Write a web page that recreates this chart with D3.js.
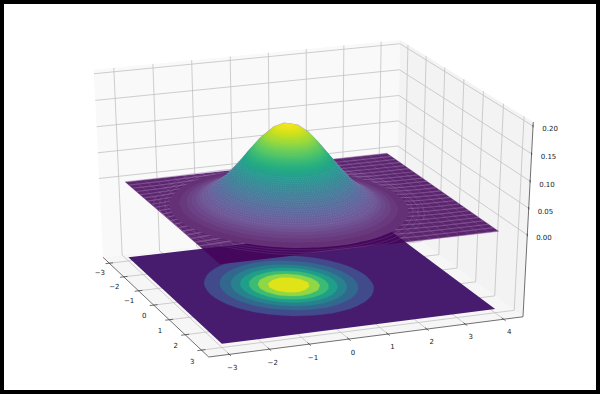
<!DOCTYPE html>
<html>
<head>
<meta charset="utf-8">
<script src="https://cdn.jsdelivr.net/npm/d3@7"></script>
<style>
    html, body { margin: 0; padding: 0; background: #fff; }
    svg { display: block; }
    text { font-family: "DejaVu Sans", sans-serif; font-size: 7px; fill: #1a1a1a; }
</style>
</head>
<body>
<div id="chart"></div>
<script>
const xs = [-3, -2.75, -2.5, -2.25, -2, -1.75, -1.5, -1.25, -1, -0.75, -0.5, -0.25, 0, 0.25, 0.5, 0.75, 1, 1.25, 1.5, 1.75, 2, 2.25, 2.5, 2.75, 3];
const ys = [-3, -2.75, -2.5, -2.25, -2, -1.75, -1.5, -1.25, -1, -0.75, -0.5, -0.25, 0, 0.25, 0.5, 0.75, 1, 1.25, 1.5, 1.75, 2, 2.25, 2.5, 2.75, 3, 3.25, 3.5, 3.75, 4];

// surface height, z x 10000, one row per x, one column per y
const row300 = [0,0,1,1,2,4,6,8,11,13,16,17,18,17,16,13,11,8,6,4,2,1,1,0,0,0,0,0,0];
const row275 = [0,1,2,3,5,8,12,17,22,27,32,35,36,35,32,27,22,17,12,8,5,3,2,1,0,0,0,0,0];
const row250 = [1,2,3,6,9,15,23,32,42,53,62,68,70,68,62,53,42,32,23,15,9,6,3,2,1,0,0,0,0];
const row225 = [1,3,6,10,17,27,41,58,77,96,112,123,127,123,112,96,77,58,41,27,17,10,6,3,1,1,0,0,0];
const row200 = [2,5,9,17,29,47,70,99,131,163,190,209,215,209,190,163,131,99,70,47,29,17,9,5,2,1,1,0,0];
const row175 = [4,8,15,27,47,74,112,158,209,260,304,334,344,334,304,260,209,158,112,74,47,27,15,8,4,2,1,0,0];
const row150 = [6,12,23,41,70,112,168,237,313,390,456,501,517,501,456,390,313,237,168,112,70,41,23,12,6,3,1,0,0];
const row125 = [8,16,32,58,98,157,237,334,442,550,643,706,729,706,643,550,442,334,237,157,98,58,32,16,8,4,2,0,0];
const row100 = [11,22,42,77,130,209,314,442,585,728,852,935,966,935,852,728,585,442,314,209,130,77,42,22,11,5,2,1,0];
const row075 = [14,27,53,96,162,260,390,550,728,907,1060,1164,1202,1164,1060,907,728,550,390,260,162,96,53,27,14,6,3,1,0];
const row050 = [16,32,62,112,190,304,456,643,852,1060,1240,1361,1405,1361,1240,1060,852,643,456,304,190,112,62,32,16,7,3,1,0];
const row025 = [17,35,68,123,208,333,501,707,935,1164,1362,1494,1543,1494,1362,1164,935,707,501,333,208,123,68,35,17,8,3,1,0];
const row000 = [18,36,70,127,215,344,517,729,965,1201,1405,1542,1592,1542,1405,1201,965,729,517,344,215,127,70,36,18,8,4,1,0];
const zRows = [row300, row275, row250, row225, row200, row175, row150, row125, row100, row075, row050, row025, row000,
    row025, row050, row075, row100, row125, row150, row175, row200, row225, row250, row275, row300];

const xTicks = [-3, -2, -1, 0, 1, 2, 3];
const yTicks = [-3, -2, -1, 0, 1, 2, 3, 4];
const zTicks = [0, 0.05, 0.1, 0.15, 0.2];
const zTickLabels = ["0.00", "0.05", "0.10", "0.15", "0.20"];

// filled contour levels on the floor and their colours
const floorLevels = [200, 400, 600, 800, 1000, 1200, 1400];
const floorColors = ["#471b6e", "#414a8b", "#33688e", "#27828e", "#1f9e89", "#3cbb75", "#8fd744", "#e0e318"];

const width = 600;
const height = 394;
const zFloorValue = -0.15;

const xLim = [-3.44, 3.44];
const yLim = [-3.51, 4.51];
const zLim = [-0.1573, 0.2073];

// same camera as a matplotlib 3d axes, elev 27 azim -21
const elev = 27 * Math.PI / 180;
const azim = -21 * Math.PI / 180;
const dist = 10;
const xNorm = d3.scaleLinear().domain(xLim).range([0, 1]);
const yNorm = d3.scaleLinear().domain(yLim).range([0, 1]);
const zNorm = d3.scaleLinear().domain(zLim).range([0, 1]);

function camera(x, y, z) {
    const p = [xNorm(x) - 0.5, yNorm(y) - 0.5, zNorm(z) - 0.5];
    const n = [Math.cos(elev) * Math.cos(azim), Math.cos(elev) * Math.sin(azim), Math.sin(elev)];
    const uLen = Math.hypot(n[0], n[1]);
    const u = [-n[1] / uLen, n[0] / uLen, 0];
    const v = [n[1] * u[2] - n[2] * u[1], n[2] * u[0] - n[0] * u[2], n[0] * u[1] - n[1] * u[0]];
    const w = dist - (p[0] * n[0] + p[1] * n[1] + p[2] * n[2]);
    return [(p[0] * u[0] + p[1] * u[1]) / w, (p[0] * v[0] + p[1] * v[1] + p[2] * v[2]) / w];
}

// pin the projected box on the corners seen in the picture
const screenX = d3.scaleLinear()
    .domain([camera(xLim[0], yLim[0], zLim[0])[0], camera(xLim[1], yLim[1], zLim[0])[0]])
    .range([103, 523]);
const screenY = d3.scaleLinear()
    .domain([camera(xLim[1], yLim[0], zLim[0])[1], camera(xLim[1], yLim[1], zLim[1])[1]])
    .range([357, 122]);

function project(x, y, z) {
    const c = camera(x, y, z);
    return [screenX(c[0]), screenY(c[1])];
}

const svg = d3.select("#chart")
    .append("svg")
    .attr("width", width)
    .attr("height", height);

svg.append("rect")
    .attr("width", width)
    .attr("height", height)
    .attr("fill", "black");
svg.append("rect")
    .attr("x", 4)
    .attr("y", 4)
    .attr("width", 592)
    .attr("height", 386)
    .attr("fill", "white");

const line3d = d3.line();

function wall(points, fill) {
    svg.append("path")
        .attr("d", line3d(points.map(p => project(p[0], p[1], p[2]))) + "Z")
        .attr("fill", fill);
}
wall([[xLim[0], yLim[0], zLim[0]], [xLim[0], yLim[1], zLim[0]], [xLim[0], yLim[1], zLim[1]], [xLim[0], yLim[0], zLim[1]]], "#f9f9f9");
wall([[xLim[0], yLim[1], zLim[0]], [xLim[1], yLim[1], zLim[0]], [xLim[1], yLim[1], zLim[1]], [xLim[0], yLim[1], zLim[1]]], "#f3f3f3");
wall([[xLim[0], yLim[0], zLim[0]], [xLim[1], yLim[0], zLim[0]], [xLim[1], yLim[1], zLim[0]], [xLim[0], yLim[1], zLim[0]]], "#f6f6f6");

function gridLine(points) {
    svg.append("path")
        .attr("d", line3d(points.map(p => project(p[0], p[1], p[2]))))
        .attr("fill", "none")
        .attr("stroke", "#c2c2c2")
        .attr("stroke-width", 0.8);
}
yTicks.forEach(t => gridLine([[xLim[1], t, zLim[0]], [xLim[0], t, zLim[0]], [xLim[0], t, zLim[1]]]));
xTicks.forEach(t => gridLine([[t, yLim[0], zLim[0]], [t, yLim[1], zLim[0]], [t, yLim[1], zLim[1]]]));
zTicks.forEach(t => gridLine([[xLim[0], yLim[0], t], [xLim[0], yLim[1], t], [xLim[1], yLim[1], t]]));

function axisLine(a, b) {
    svg.append("path")
        .attr("d", line3d([project(a[0], a[1], a[2]), project(b[0], b[1], b[2])]))
        .attr("stroke", "#333")
        .attr("stroke-width", 0.7);
}
function tickLabel(p, label) {
    const s = project(p[0], p[1], p[2]);
    svg.append("text")
        .attr("x", s[0])
        .attr("y", s[1])
        .attr("text-anchor", "middle")
        .attr("dy", "0.35em")
        .text(label);
}
const fmt = d => String(d).replace("-", "\u2212");

axisLine([xLim[0], yLim[0], zLim[0]], [xLim[1], yLim[0], zLim[0]]);
axisLine([xLim[1], yLim[0], zLim[0]], [xLim[1], yLim[1], zLim[0]]);
axisLine([xLim[1], yLim[1], zLim[0]], [xLim[1], yLim[1], zLim[1]]);

xTicks.forEach(t => {
    axisLine([t, yLim[0] + 0.1, zLim[0]], [t, yLim[0] - 0.1, zLim[0]]);
    tickLabel([t + 0.565, yLim[0] - 0.46, zLim[0]], fmt(t));
});
yTicks.forEach(t => {
    axisLine([xLim[1] - 0.1, t, zLim[0]], [xLim[1] + 0.1, t, zLim[0]]);
    tickLabel([xLim[1] + 0.765, t - 0.25, zLim[0]], fmt(t));
});
zTicks.forEach((t, i) => {
    axisLine([xLim[1] - 0.08, yLim[1] + 0.04, t], [xLim[1] + 0.08, yLim[1] - 0.04, t]);
    tickLabel([xLim[1] + 0.3, yLim[1] + 0.27, t], zTickLabels[i]);
});

// contours come back in grid units, so turn them into data units
const colToY = d3.scaleLinear().domain([0.5, ys.length - 0.5]).range([ys[0], ys[ys.length - 1]]).clamp(true);
const rowToX = d3.scaleLinear().domain([0.5, xs.length - 0.5]).range([xs[0], xs[xs.length - 1]]).clamp(true);
const contours = d3.contours().size([ys.length, xs.length]).smooth(true);
const gridValues = zRows.flat();

function pathAt(z) {
    return d3.geoPath(d3.geoTransform({
        point(col, row) {
            const s = project(rowToX(row), colToY(col), z);
            this.stream.point(s[0], s[1]);
        }
    }));
}

function plane(z) {
    return line3d([
        project(xs[0], ys[0], z),
        project(xs[xs.length - 1], ys[0], z),
        project(xs[xs.length - 1], ys[ys.length - 1], z),
        project(xs[0], ys[ys.length - 1], z)
    ]) + "Z";
}

// flat part of the surface, striped where the white shows through
svg.append("path").attr("d", plane(0)).attr("fill", "#4a0d5e").attr("fill-opacity", 0.9);

const rowLine = d3.line();
svg.append("g")
    .selectAll("path")
    .data(zRows)
    .enter().append("path")
    .attr("d", (row, i) => rowLine(row.map((v, j) => project(xs[i], ys[j], v / 10000))))
    .attr("fill", "none")
    .attr("stroke", "#9a78b0")
    .attr("stroke-opacity", 0.5)
    .attr("stroke-width", 1.2);
svg.append("g")
    .selectAll("path")
    .data(ys)
    .enter().append("path")
    .attr("d", (y, j) => rowLine(zRows.map((row, i) => project(xs[i], y, row[j] / 10000))))
    .attr("fill", "none")
    .attr("stroke", "#9a78b0")
    .attr("stroke-opacity", 0.3)
    .attr("stroke-width", 0.8);

// floor
svg.append("path").attr("d", plane(zFloorValue)).attr("fill", floorColors[0]);
const floorPath = pathAt(zFloorValue);
svg.append("g")
    .selectAll("path")
    .data(floorLevels.map(l => contours.contour(gridValues, l)))
    .enter().append("path")
    .attr("d", floorPath)
    .attr("fill", (d, i) => floorColors[i + 1])
    .attr("stroke", (d, i) => floorColors[i + 1])
    .attr("stroke-width", 0.3);

// where the surface lies over the floor no white gets through, so it goes darker
svg.append("clipPath").attr("id", "floor-clip")
    .append("path").attr("d", plane(zFloorValue));
svg.append("path")
    .attr("d", plane(0))
    .attr("fill", "#44075c")
    .attr("clip-path", "url(#floor-clip)");

// faint arcs in the flat part round the foot of the hill
const arcLevels = [10, 15, 22];
svg.append("g")
    .selectAll("path")
    .data(arcLevels)
    .enter().append("path")
    .attr("d", level => pathAt(level / 10000)(contours.contour(gridValues, level)))
    .attr("fill", "none")
    .attr("stroke", "#fff")
    .attr("stroke-opacity", 0.18)
    .attr("stroke-width", 0.5);

// hill, stacked slices from low to high
const sliceLevels = d3.range(30, 1590, 30);
const peak = 1592;
const hazeAmount = level => {
    if (level < 180) return 0.16 + 0.06 * level / 180;
    return level < 1000 ? 0.22 * (1 - (level - 180) / 820) : 0;
};
const surfaceColor = level => d3.interpolateRgb(d3.interpolateViridis(level / peak), "white")(hazeAmount(level));
svg.append("g")
    .selectAll("path")
    .data(sliceLevels)
    .enter().append("path")
    .attr("d", level => pathAt(level / 10000)(contours.contour(gridValues, level)))
    .attr("fill", surfaceColor)
    .attr("stroke", level => level < 900 ? "#fff" : surfaceColor(level))
    .attr("stroke-opacity", level => level < 200 ? 0.1 : level < 900 ? 0.28 : 1)
    .attr("stroke-dasharray", level => level < 900 ? "1 1.4" : null)
    .attr("stroke-width", 0.4);
</script>
</body>
</html>
